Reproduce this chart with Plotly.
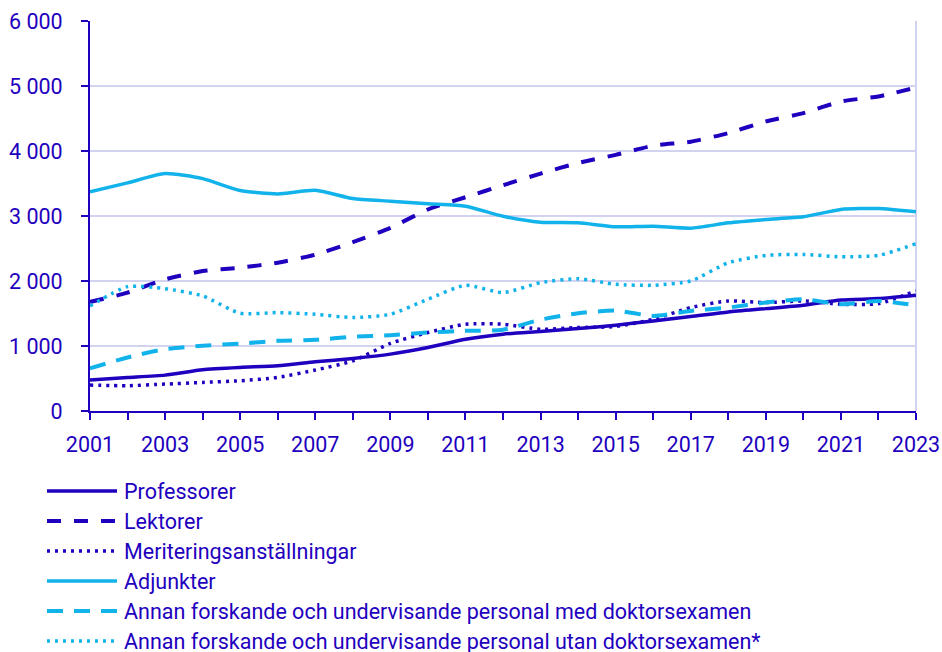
import plotly.graph_objects as go

years = list(range(2001, 2024))

professorer = [476, 514, 552, 634, 670, 696, 757, 808, 875, 977, 1105, 1182, 1223, 1269, 1320, 1386, 1453, 1524, 1575, 1627, 1708, 1729, 1780]
lektorer = [1678, 1821, 2026, 2153, 2205, 2281, 2405, 2598, 2818, 3100, 3289, 3473, 3652, 3816, 3940, 4082, 4143, 4276, 4455, 4583, 4762, 4839, 4977]
meritering = [399, 389, 414, 440, 465, 517, 630, 772, 1040, 1207, 1335, 1335, 1258, 1284, 1300, 1412, 1591, 1693, 1668, 1693, 1642, 1652, 1847]
adjunkter = [3371, 3509, 3652, 3575, 3391, 3340, 3396, 3269, 3228, 3187, 3151, 2997, 2905, 2895, 2834, 2844, 2813, 2895, 2946, 2987, 3100, 3115, 3064]
annan_med = [655, 824, 951, 1003, 1038, 1079, 1095, 1141, 1166, 1207, 1233, 1250, 1405, 1504, 1545, 1463, 1540, 1591, 1668, 1719, 1642, 1693, 1627]
annan_utan = [1616, 1913, 1882, 1770, 1504, 1514, 1488, 1437, 1488, 1719, 1934, 1821, 1974, 2036, 1949, 1934, 2000, 2281, 2394, 2409, 2373, 2394, 2573]

names = [
    "Professorer",
    "Lektorer",
    "Meriteringsanställningar",
    "Adjunkter",
    "Annan forskande och undervisande personal med doktorsexamen",
    "Annan forskande och undervisande personal utan doktorsexamen*",
]
series = [professorer, lektorer, meritering, adjunkter, annan_med, annan_utan]

DARK = "#1e00be"
LIGHT = "#12b2ea"
GRID = "#d2d3f0"

styles = [
    dict(color=DARK, width=3.5, dash="solid"),
    dict(color=DARK, width=4, dash="14px,13px"),
    dict(color=DARK, width=3.5, dash="3px,5px"),
    dict(color=LIGHT, width=3.5, dash="solid"),
    dict(color=LIGHT, width=4, dash="16px,11px"),
    dict(color=LIGHT, width=3.5, dash="3px,5px"),
]

fig = go.Figure()
for name, vals, st in zip(names, series, styles):
    fig.add_trace(go.Scatter(
        x=years, y=vals, name=name, mode="lines",
        line=dict(color=st["color"], width=st["width"], dash=st["dash"],
                  shape="spline", smoothing=0.6),
        showlegend=False, hoverinfo="x+y+name",
    ))

FONT = dict(family="Roboto, Arial, sans-serif", size=21.5, color=DARK)

# manual legend below the plot (pixel offsets from plot-area bottom-left)
shapes = []
annotations = []
row0 = 80  # px below plot bottom for first row
for i, (name, st) in enumerate(zip(names, styles)):
    yoff = -(row0 + 30 * i)
    shapes.append(dict(
        type="line", xref="paper", yref="paper",
        xsizemode="pixel", ysizemode="pixel", xanchor=0, yanchor=0,
        x0=-43, x1=27, y0=yoff, y1=yoff,
        line=dict(color=st["color"], width=st["width"], dash=st["dash"]),
    ))
    annotations.append(dict(
        text=name, xref="paper", yref="paper", x=0, y=0,
        xanchor="left", yanchor="middle", xshift=32, yshift=yoff,
        showarrow=False, font=FONT,
    ))

# right border of plot area
shapes.append(dict(type="line", xref="paper", yref="paper", x0=1, x1=1, y0=0, y1=1,
                   line=dict(color=GRID, width=2), layer="below"))

fig.update_layout(
    width=942, height=652,
    margin=dict(l=90, r=26, t=21, b=241, autoexpand=False),
    paper_bgcolor="white", plot_bgcolor="white",
    separators=", ",
    font=FONT,
    shapes=shapes, annotations=annotations,
    xaxis=dict(
        range=[2001, 2023], tick0=2001, dtick=2,
        ticks="outside", ticklen=7, tickwidth=2, tickcolor=DARK,
        minor=dict(dtick=1, ticks="outside", ticklen=7, tickwidth=2, tickcolor=DARK, showgrid=False),
        showgrid=False, showline=True, linecolor=DARK, linewidth=2,
        zeroline=False, tickfont=FONT, ticklabelstandoff=6, automargin=False,
    ),
    yaxis=dict(
        range=[0, 6000], dtick=1000, tickformat=",d",
        ticks="outside", ticklen=7, tickwidth=2, tickcolor=DARK,
        showgrid=True, gridcolor=GRID, gridwidth=2,
        showline=True, linecolor=DARK, linewidth=2,
        zeroline=False, tickfont=FONT, ticklabelstandoff=14, automargin=False,
    ),
)

fig.write_html(
    "out.html",
    config={"displayModeBar": False},
    post_script="document.body.style.margin='0';document.body.style.overflow='hidden';",
)
